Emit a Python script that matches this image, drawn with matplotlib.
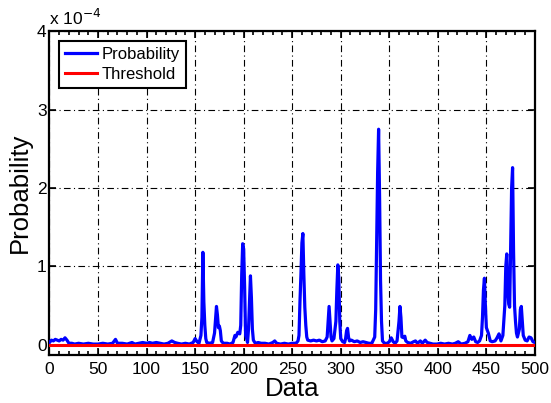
import matplotlib
matplotlib.use("Agg")
import matplotlib.pyplot as plt
from matplotlib.ticker import MultipleLocator

plt.rcParams['font.family'] = ['Liberation Sans', 'DejaVu Sans']

# data (probability values in units of 1e-4)
data_x = [0, 2, 4, 6, 8, 10, 12, 14, 16, 18, 20, 23, 26, 30, 35, 40, 45, 50, 55, 60,
          65, 68, 70, 75, 80, 85, 88, 92, 96, 100, 103, 106, 110, 114, 118, 122, 126, 129, 132, 136,
          140, 144, 148, 150, 152, 154, 156, 157, 158, 159, 160, 161, 162, 165, 168, 170, 172, 173, 174, 175,
          176, 177, 179, 183, 186, 189, 191, 192, 194, 196, 197, 198, 199, 200, 201, 202, 203, 204, 205, 206,
          207, 208, 209, 210, 212, 215, 218, 222, 226, 230, 232, 234, 238, 242, 246, 250, 254, 256, 257, 258,
          259, 260, 261, 262, 263, 264, 265, 266, 269, 272, 275, 278, 281, 284, 286, 287, 288, 289, 290, 291,
          293, 295, 296, 297, 298, 299, 300, 302, 304, 305, 306, 307, 308, 309, 311, 314, 317, 320, 323, 326,
          329, 332, 335, 336, 337, 338, 339, 340, 341, 342, 343, 345, 348, 350, 352, 354, 356, 358, 360, 361,
          362, 363, 365, 366, 367, 369, 372, 375, 377, 379, 382, 384, 387, 389, 392, 395, 399, 403, 407, 411,
          415, 418, 421, 424, 428, 431, 433, 435, 437, 439, 441, 443, 445, 446, 447, 448, 449, 450, 452, 454,
          456, 459, 461, 463, 465, 467, 469, 470, 471, 472, 473, 474, 475, 476, 477, 478, 479, 480, 481, 482,
          484, 485, 486, 487, 488, 490, 492, 494, 496, 498, 500]
probability = [0.03, 0.06, 0.05, 0.07, 0.06, 0.05, 0.07, 0.06, 0.09, 0.06, 0.02, 0.02, 0.01, 0.02, 0.01, 0.02, 0.01, 0.01, 0.02, 0.01,
               0.02, 0.07, 0.02, 0.02, 0.01, 0.03, 0.01, 0.02, 0.03, 0.02, 0.03, 0.02, 0.03, 0.02, 0.01, 0.02, 0.05, 0.03, 0.02, 0.01,
               0.02, 0.01, 0.03, 0.08, 0.04, 0.02, 0.12, 0.35, 1.18, 0.55, 0.25, 0.08, 0.03, 0.02, 0.03, 0.15, 0.49, 0.38, 0.22, 0.24,
               0.18, 0.05, 0.02, 0.02, 0.01, 0.03, 0.12, 0.10, 0.16, 0.14, 0.25, 0.90, 1.29, 1.22, 0.74, 0.12, 0.08, 0.03, 0.20, 0.55,
               0.88, 0.60, 0.20, 0.06, 0.02, 0.03, 0.02, 0.02, 0.01, 0.03, 0.05, 0.02, 0.01, 0.02, 0.01, 0.02, 0.02, 0.05, 0.12, 0.55,
               0.90, 1.30, 1.42, 0.90, 0.48, 0.25, 0.10, 0.06, 0.05, 0.06, 0.05, 0.06, 0.04, 0.05, 0.10, 0.30, 0.49, 0.30, 0.10, 0.05,
               0.08, 0.30, 0.70, 1.02, 0.85, 0.30, 0.08, 0.04, 0.03, 0.08, 0.18, 0.21, 0.10, 0.05, 0.06, 0.04, 0.05, 0.03, 0.04, 0.03,
               0.02, 0.02, 0.10, 0.45, 1.28, 2.20, 2.75, 1.90, 0.82, 0.30, 0.05, 0.02, 0.02, 0.04, 0.09, 0.04, 0.02, 0.05, 0.30, 0.49,
               0.35, 0.10, 0.09, 0.11, 0.05, 0.03, 0.02, 0.04, 0.05, 0.02, 0.05, 0.02, 0.06, 0.03, 0.02, 0.01, 0.01, 0.02, 0.01, 0.02,
               0.01, 0.02, 0.04, 0.01, 0.02, 0.04, 0.12, 0.07, 0.10, 0.04, 0.03, 0.05, 0.12, 0.35, 0.70, 0.85, 0.50, 0.22, 0.15, 0.05,
               0.04, 0.05, 0.09, 0.14, 0.05, 0.12, 0.50, 1.00, 1.16, 0.70, 0.52, 0.48, 1.20, 2.00, 2.26, 1.20, 0.50, 0.30, 0.15, 0.10,
               0.20, 0.45, 0.49, 0.30, 0.12, 0.06, 0.05, 0.10, 0.09, 0.04, 0.03]
threshold_x = [0, 500]
threshold = [0.0, 0.0]

x_ticks = [0, 50, 100, 150, 200, 250, 300, 350, 400, 450, 500]
y_ticks = [0, 1, 2, 3, 4]

fig = plt.figure(figsize=(5.51, 4.03), dpi=100)
ax = fig.add_axes([0.0898, 0.119, 0.881, 0.8035])

ax.plot(data_x, probability, color='#0000ff', lw=2.3, label='Probability', zorder=3)
ax.plot(threshold_x, threshold, color='#ff0000', lw=2.2, label='Threshold', zorder=4)

ax.set_xlim(0, 500)
ax.set_ylim(-0.13, 4)
ax.set_xticks(x_ticks)
ax.set_yticks(y_ticks)
ax.xaxis.set_minor_locator(MultipleLocator(10))

ax.grid(True, which='major', color='black', linestyle=(0, (6, 3, 1, 3)), lw=0.8)
ax.tick_params(which='both', direction='in', top=True, right=True, labelsize=12.5, width=1.2)
ax.tick_params(which='major', length=5, pad=5)
ax.tick_params(which='minor', length=3)
ax.tick_params(axis='y', pad=2)
for s in ax.spines.values():
    s.set_linewidth(1.6)

ax.set_xlabel('Data', fontsize=18.5, labelpad=0)
ax.set_ylabel('Probability', fontsize=18.5, labelpad=4)

ax.text(0.0, 1.01, r'x 10$^{-4}$', transform=ax.transAxes, fontsize=12.5, ha='left', va='bottom')

leg = ax.legend(loc='upper left', fontsize=12, fancybox=False, framealpha=1,
                edgecolor='black', handlelength=1.9, handletextpad=0.3,
                borderpad=0.35, labelspacing=0.3, borderaxespad=0.6)
leg.get_frame().set_linewidth(1.5)

fig.savefig('out.png', dpi=100)
